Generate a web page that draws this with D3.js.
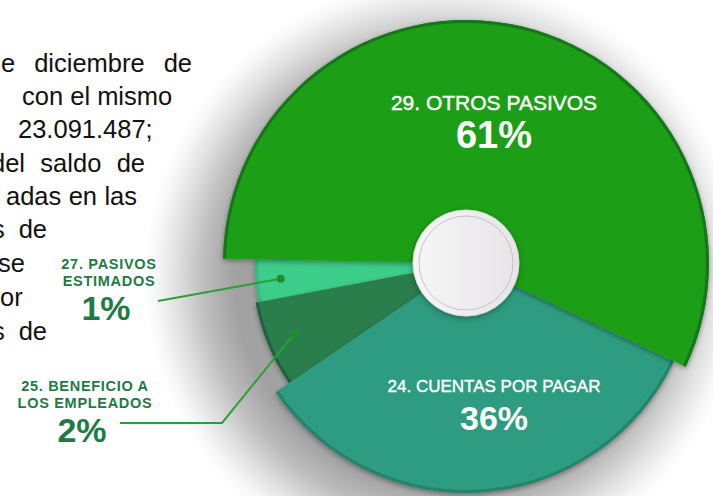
<!DOCTYPE html>
<html>
<head>
<meta charset="utf-8">
<script src="https://cdn.jsdelivr.net/npm/d3@7"></script>
<style>
  body { margin: 0; background: #fff; }
  svg { display: block; font-family: "Liberation Sans", Arial, sans-serif; }
</style>
</head>
<body>
<div id="chart"></div>
<script>
// data
const categories = ["29. OTROS PASIVOS", "24. CUENTAS POR PAGAR", "25. BENEFICIO A LOS EMPLEADOS", "27. PASIVOS ESTIMADOS"];
const shares = [61, 36, 2, 1];
const labelLines = [["29. OTROS PASIVOS"], ["24. CUENTAS POR PAGAR"], ["25. BENEFICIO A", "LOS EMPLEADOS"], ["27. PASIVOS", "ESTIMADOS"]];

// styling
const sliceColors = ["url(#greenGrad)", "#2e9c80", "#2c7e4c", "#3ccd8a"];
const rimColors = ["#15761a", "#26826c", "#245f45", "#36bb7e"];
const sliceRadius = [243, 230, 214, 211];

// paragraph behind the graphic (cut off by the page edge)
const paraLines = [
  {text: "e diciembre de", x0: 1, x1: 192, y: 72},
  {text: "con el mismo", x0: 22, x1: 172, y: 105},
  {text: "23.091.487;", x0: 18, x1: 153, y: 138},
  {text: "del saldo de", x0: -9, x1: 145, y: 172},
  {text: "adas en las", x0: 6, x1: 137, y: 205},
  {text: "s de", x0: -8, x1: 47, y: 238},
  {text: "se", x0: -2, x1: 25, y: 272},
  {text: "or", x0: 0, x1: 25, y: 306},
  {text: "s de", x0: -8, x1: 47, y: 340}
];

const width = 713, height = 496;
const cx = 466, cy = 263;

const svg = d3.select("#chart").append("svg")
  .attr("width", width)
  .attr("height", height);

const defs = svg.append("defs");

const bg = defs.append("radialGradient").attr("id", "bgShadow")
  .attr("gradientUnits", "userSpaceOnUse")
  .attr("cx", cx - 22).attr("cy", cy + 14).attr("r", 300);
[[0, "#9a9a9a"], [0.7, "#a2a2a2"], [0.8, "#bdbdbd"], [0.89, "#e0e0e0"], [0.96, "#f7f7f7"], [1, "#ffffff"]]
  .forEach(s => bg.append("stop").attr("offset", s[0]).attr("stop-color", s[1]));

const gg = defs.append("linearGradient").attr("id", "greenGrad")
  .attr("gradientUnits", "userSpaceOnUse")
  .attr("x1", cx - 245).attr("y1", 0).attr("x2", cx + 245).attr("y2", 0);
gg.append("stop").attr("offset", 0).attr("stop-color", "#1f9e13");
gg.append("stop").attr("offset", 1).attr("stop-color", "#0f6c17");

const wg = defs.append("linearGradient").attr("id", "capGrad")
  .attr("x1", 0).attr("y1", 0).attr("x2", 1).attr("y2", 0);
wg.append("stop").attr("offset", 0).attr("stop-color", "#f8f7f8");
wg.append("stop").attr("offset", 1).attr("stop-color", "#e6e4e6");

const sh = defs.append("filter").attr("id", "sliceShadow")
  .attr("x", "-20%").attr("y", "-20%").attr("width", "140%").attr("height", "140%");
sh.append("feDropShadow").attr("dx", 0).attr("dy", 2).attr("stdDeviation", 2.5)
  .attr("flood-color", "#000").attr("flood-opacity", 0.35);

const capSh = defs.append("filter").attr("id", "capShadow")
  .attr("x", "-30%").attr("y", "-30%").attr("width", "160%").attr("height", "160%");
capSh.append("feDropShadow").attr("dx", 0).attr("dy", 2).attr("stdDeviation", 3)
  .attr("flood-color", "#000").attr("flood-opacity", 0.3);

// paragraph text, justified line by line
const para = svg.append("g").attr("fill", "#111").attr("font-size", 25.5);
paraLines.forEach(l => {
  const t = para.append("text").attr("x", l.x0).attr("y", l.y).text(l.text);
  const spaces = l.text.split(" ").length - 1;
  if (spaces > 0) {
    const natural = t.node().getComputedTextLength();
    t.attr("word-spacing", Math.max(0, (l.x1 - l.x0 - natural) / spaces));
  }
});

// soft shadow round the pie
svg.append("circle")
  .attr("cx", cx - 22).attr("cy", cy + 14).attr("r", 300)
  .attr("fill", "url(#bgShadow)");

// in the original the two thin slices are drawn about 3.5x wider than their share
const pie = d3.pie().sort(null)
  .value(d => d < 5 ? d * 3.5 : d)
  .startAngle(-89 * Math.PI / 180)
  .endAngle(271 * Math.PI / 180);
const arcs = pie(shares);

const g = svg.append("g").attr("transform", `translate(${cx},${cy})`);

const order = [3, 2, 1, 0];
order.forEach(i => {
  const a = arcs[i];
  const r = sliceRadius[i];
  const sg = g.append("g").attr("filter", "url(#sliceShadow)");
  sg.append("path")
    .attr("d", d3.arc().innerRadius(0).outerRadius(r)(a))
    .attr("fill", sliceColors[i]);
  sg.append("path")
    .attr("d", d3.arc().innerRadius(r - 3).outerRadius(r)(a))
    .attr("fill", rimColors[i]);
});

// centre cap
g.append("circle").attr("r", 53)
  .attr("fill", "url(#capGrad)")
  .attr("stroke", "#dcdcdc").attr("stroke-width", 1)
  .attr("filter", "url(#capShadow)");
g.append("circle").attr("r", 47)
  .attr("fill", "none").attr("stroke", "#c4c2c4").attr("stroke-width", 1);

// labels inside the big slices
const labelArc = d3.arc().innerRadius(143).outerRadius(143);
const nameSize = [21, 17];
const pctSize = [38, 34];
[0, 1].forEach(i => {
  const c = labelArc.centroid(arcs[i]);
  const lx = 28, ly = c[1];
  g.append("text")
    .attr("x", lx).attr("y", ly - 14)
    .attr("text-anchor", "middle")
    .attr("fill", "#fff")
    .attr("stroke", "#fff").attr("stroke-width", 0.4)
    .attr("font-size", nameSize[i])
    .text(labelLines[i][0]);
  g.append("text")
    .attr("x", lx).attr("y", ly + 24)
    .attr("text-anchor", "middle")
    .attr("fill", "#fff")
    .attr("font-size", pctSize[i])
    .attr("font-weight", "bold")
    .text(shares[i] + "%");
});

// callouts for the thin slices
const dotArc = d3.arc().innerRadius(186).outerRadius(186);
const callouts = {
  2: {x: 85, y: 391, line: [[222, 423], [120, 423]]},
  3: {x: 109, y: 269, line: [[158, 301]]}
};
const labelGreen = "#1f7a45";
const lineGreen = "#2a9f38";
[2, 3].forEach(i => {
  const c = dotArc.centroid(arcs[i]);
  const dot = [cx + c[0], cy + c[1]];
  const co = callouts[i];
  svg.append("path")
    .attr("d", d3.line()([dot].concat(co.line)))
    .attr("fill", "none")
    .attr("stroke", lineGreen)
    .attr("stroke-width", 2);
  svg.append("circle")
    .attr("cx", dot[0]).attr("cy", dot[1]).attr("r", 4)
    .attr("fill", "#1f8f2c");
  labelLines[i].forEach((ln, j) => {
    svg.append("text")
      .attr("x", co.x).attr("y", co.y + j * 16.5)
      .attr("text-anchor", "middle")
      .attr("fill", labelGreen)
      .attr("font-size", 14.5)
      .attr("letter-spacing", 0.7)
      .attr("font-weight", "bold")
      .text(ln);
  });
  svg.append("text")
    .attr("x", co.x - 3).attr("y", co.y + 51)
    .attr("text-anchor", "middle")
    .attr("fill", labelGreen)
    .attr("font-size", 34)
    .attr("font-weight", "bold")
    .text(shares[i] + "%");
});
</script>
</body>
</html>
